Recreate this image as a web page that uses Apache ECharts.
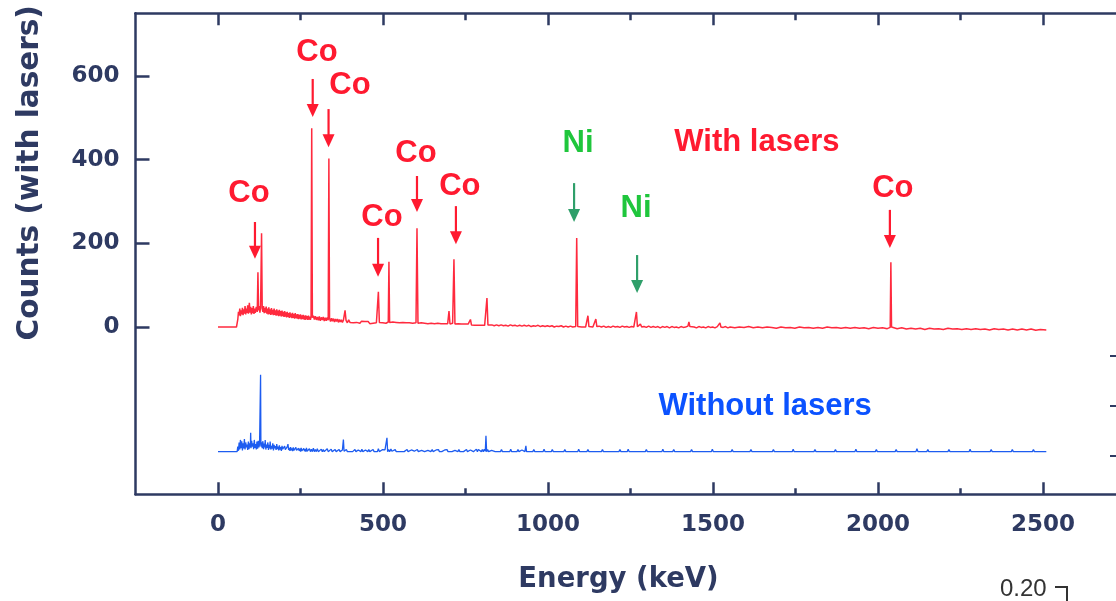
<!DOCTYPE html>
<html>
<head>
<meta charset="utf-8">
<title>Energy spectrum</title>
<script src="https://cdn.jsdelivr.net/npm/echarts@6/dist/echarts.min.js"></script>
<style>
  html, body { margin: 0; padding: 0; background: #ffffff; }
  #chart { width: 1116px; height: 601px; }
</style>
</head>
<body>
<div id="chart"></div>
<script>
// Gamma spectrum recorded with the lasers on: [energy keV, counts]
const redSpectrum = [
  [0,0],[56,0],[60,18],[62,36],[64,28],[66,44],[68,26],[70,40],[72,30],[74,46],[76,28],[78,42],[80,32],[82,50],[84,30],[86,44],
  [88,34],[90,52],[92,32],[94,46],[95,58],[97,34],[99,48],[101,30],[103,45],[105,33],[107,50],[109,31],[111,44],[113,34],
  [116,48],[119,36],[121,131],[123,40],[125,50],[127,34],[129,46],[132,224],[134,44],[136,36],[138,50],[140,33],[142,46],
  [144,34],[146,49],[148,32],[150,44],[152,30],[154,47],[156,31],[158,42],[160,29],[162,45],[164,30],[166,41],[168,28],
  [170,44],[172,29],[174,40],[176,27],[178,42],[180,28],[182,39],[184,26],[186,41],[188,27],[190,38],[192,25],[194,39],
  [196,26],[198,36],[200,24],[202,38],[204,25],[206,35],[208,23],[210,36],[212,24],[214,33],[216,22],[218,35],[220,23],
  [222,32],[224,21],[226,34],[228,22],[230,31],[232,20],[234,33],[236,21],[238,30],[240,20],[242,31],[244,19],[246,29],
  [248,20],[250,30],[252,18],[254,28],[256,19],[258,29],[260,18],[262,27],[264,17],[266,28],[268,18],[270,26],[272,17],
  [274,27],[276,18],[278,25],[280,17],[282,24],[284,475],[286,22],[289,27],[292,18],[295,26],[298,17],[301,24],[304,16],
  [307,25],[310,15],[313,23],[316,17],[319,24],[322,14],[325,22],[328,15],[331,23],[334,16],[336,403],[338,21],[341,13],
  [344,21],[347,14],[350,20],[353,12],[356,19],[359,13],[362,19],[365,11],[368,18],[371,12],[374,17],[377,11],[380,16],
  [383,12],[385,40],[388,16],[392,10],[396,17],[400,11],[405,15],[410,10],[415,14],[420,11],[425,15],[430,9],[435,14],
  [440,10],[445,13],[450,9],[455,13],[460,8],[465,12],[470,9],[475,13],[480,10],[483,12],[486,84],[489,11],
  [494,13],[499,10],[504,12],[509,9],[514,11],[516,12],[518,156],[520,11],[525,9],[530,12],[535,8],[540,11],[545,9],[550,10],
  [555,8],[560,11],[565,8],[570,10],[575,7],[580,10],[585,8],[590,9],[595,7],[600,10],[603,236],[606,9],[611,7],[616,10],[621,7],
  [626,9],[631,6],[636,8],[641,6],[646,9],[651,6],[656,8],[661,6],[666,9],[671,5],[676,8],[681,6],[686,8],[691,5],[696,8],
  [700,38],[703,7],[707,6],[711,9],[715,162],[718,7],[723,5],[728,8],[733,5],[738,7],[743,5],[748,7],[753,4],[758,7],[762,5],
  [765,18],[768,5],[773,6],[778,4],[783,7],[788,4],[793,6],[798,4],[803,6],[808,4],[812,5],[815,69],[818,5],[823,3],[830,5],
  [837,3],[844,5],[851,3],[858,5],[865,3],[872,4],[879,2],[886,5],[893,3],[900,4],[907,2],[914,4],[921,2],[928,4],[935,2],
  [942,4],[949,1],[956,3],[963,2],[970,4],[977,1],[984,3],[991,1],[998,3],[1005,1],[1012,3],[1019,0],[1026,2],[1033,1],[1040,3],
  [1047,0],[1054,2],[1061,0],[1068,2],[1075,0],[1081,1],[1084,1],[1087,213],[1090,1],[1096,3],[1102,0],[1108,2],[1114,0],
  [1118,2],[1121,27],[1124,1],[1130,2],[1136,0],[1141,2],[1145,19],[1148,1],[1155,2],[1162,0],[1169,2],[1176,-1],[1183,1],
  [1190,-1],[1197,2],[1204,0],[1211,1],[1218,-1],[1225,2],[1232,0],[1239,1],[1246,-1],[1253,1],[1260,0],[1265,2],[1268,36],
  [1271,1],[1276,0],[1280,7],[1284,0],[1291,1],[1298,-1],[1305,2],[1312,-1],[1319,1],[1326,-1],[1333,1],[1340,-2],[1347,1],
  [1354,-1],[1361,1],[1368,-2],[1375,1],[1382,-1],[1389,0],[1396,-2],[1403,1],[1410,-1],[1417,0],[1424,2],[1427,12],[1430,1],
  [1436,-1],[1443,0],[1450,-2],[1457,1],[1464,-1],[1471,0],[1478,-2],[1485,1],[1492,-1],[1499,0],[1506,-2],[1513,1],[1518,0],
  [1521,10],[1524,0],[1531,-1],[1538,1],[1545,-2],[1552,0],[1566,-2],[1580,0],[1594,-1],[1608,1],[1622,-2],[1636,0],[1650,-2],
  [1664,0],[1678,-1],[1692,-3],[1706,0],[1720,-2],[1734,-1],[1748,-3],[1762,0],[1776,-2],[1790,-1],[1804,-3],[1818,-1],[1832,-3],
  [1846,0],[1860,-2],[1874,-1],[1888,-3],[1902,-1],[1916,-3],[1930,-1],[1944,-3],[1958,-2],[1972,-4],[1986,-1],[2000,-3],
  [2014,-2],[2028,-4],[2034,-2],[2037,-1],[2039,155],[2041,0],[2046,-3],[2058,-4],[2072,-2],[2086,-5],[2100,-3],[2114,-5],
  [2128,-3],[2142,-6],[2156,-3],[2170,-5],[2184,-4],[2198,-6],[2212,-3],[2226,-5],[2240,-4],[2254,-6],[2268,-4],[2282,-6],
  [2296,-4],[2310,-6],[2324,-5],[2338,-7],[2352,-4],[2366,-6],[2380,-5],[2394,-7],[2408,-5],[2422,-7],[2436,-5],[2450,-7],
  [2464,-5],[2478,-8],[2492,-6],[2510,-7]
];

// Spectrum without the lasers: [energy keV, counts above its own baseline]
const blueSpectrum = [
  [0,0],[58,0],[60,12],[62,2],[64,22],[66,5],[68,28],[70,8],[72,25],[74,3],[76,20],[78,8],[80,30],[82,5],[84,22],[86,10],
  [88,17],[90,4],[92,24],[94,6],[96,20],[98,10],[99,45],[100,8],[102,26],[104,12],[106,20],[108,6],[110,28],[112,9],[114,18],
  [116,5],[118,24],[120,7],[122,26],[124,10],[126,18],[128,14],[129,184],[130,12],[132,22],[134,8],[136,25],[138,6],[140,19],
  [142,10],[143,28],[145,5],[147,17],[149,9],[151,22],[153,4],[155,16],[157,8],[158,24],[160,5],[162,14],[164,7],[166,20],
  [168,3],[170,16],[172,8],[174,13],[176,4],[178,18],[180,6],[182,12],[184,3],[186,15],[188,5],[190,11],[192,2],[194,14],
  [196,6],[198,10],[200,2],[202,13],[204,5],[206,9],[208,2],[210,12],[212,18],[214,4],[216,9],[218,2],[220,11],[222,3],
  [224,8],[226,1],[228,10],[230,3],[232,7],[234,1],[236,10],[238,3],[240,6],[242,0],[244,8],[246,2],[248,7],[250,0],[252,9],
  [254,2],[256,5],[258,0],[260,8],[262,1],[264,6],[266,0],[268,9],[270,1],[272,5],[274,0],[277,7],[280,0],[283,6],[286,0],
  [289,8],[292,0],[295,5],[298,0],[301,7],[304,0],[307,4],[310,0],[313,6],[316,0],[319,5],[322,0],[325,4],[328,0],[331,7],
  [334,0],[337,4],[340,0],[343,6],[346,0],[349,4],[352,0],[355,5],[358,0],[361,3],[364,0],[367,5],[370,0],[374,0],[377,4],
  [380,29],[382,1],[386,0],[389,5],[392,0],[396,3],[400,0],[404,4],[408,0],[412,0],[415,5],[418,0],[422,0],[425,4],[428,0],
  [433,0],[436,6],[439,0],[444,0],[447,4],[450,0],[454,0],[457,5],[460,0],[463,3],[466,0],[470,5],[473,0],[476,4],[479,0],
  [483,0],[486,7],[489,0],[492,4],[495,0],[499,5],[502,1],[506,4],[509,0],[512,33],[514,0],[517,5],[520,0],[524,6],[527,1],
  [530,4],[533,0],[537,5],[540,0],[543,3],[546,0],[552,0],[555,4],[558,0],[564,0],[567,4],[570,0],[573,5],[576,0],[579,3],
  [582,0],[586,4],[589,0],[592,5],[595,1],[598,4],[601,0],[604,5],[607,0],[610,4],[613,0],[617,3],[620,0],[623,5],[626,0],
  [629,4],[632,0],[636,3],[639,0],[642,4],[645,0],[649,5],[652,0],[655,3],[658,0],[661,4],[664,0],[668,5],[671,0],[675,4],
  [678,0],[684,0],[687,4],[690,0],[694,5],[697,0],[700,4],[703,0],[709,0],[712,4],[715,0],[718,3],[721,0],[727,0],[730,5],
  [733,0],[736,4],[739,0],[744,0],[747,4],[750,0],[753,5],[756,0],[762,0],[765,4],[768,0],[771,5],[774,0],[777,4],[780,0],
  [783,6],[786,0],[789,5],[792,1],[795,4],[798,0],[801,5],[804,0],[807,6],[810,1],[812,38],[814,0],[817,5],[820,0],[826,0],
  [829,3],[832,0],[840,0],[843,4],[846,0],[856,0],[859,5],[862,0],[870,0],[873,4],[876,0],[884,0],[887,6],[890,0],[893,4],
  [896,0],[906,0],[909,5],[912,0],[918,0],[921,4],[924,0],[930,0],[933,14],[935,0],[941,4],[944,0],[954,0],[957,5],[960,0],
  [968,0],[971,4],[974,0],[985,0],[988,6],[991,0],[994,4],[997,0],[1010,0],[1013,5],[1016,0],[1030,0],[1033,4],[1036,0],
  [1048,0],[1051,5],[1054,0],[1070,0],[1073,4],[1076,0],[1090,0],[1093,6],[1096,0],[1099,4],[1102,0],[1118,0],[1121,5],
  [1124,0],[1140,0],[1143,4],[1146,0],[1162,0],[1165,5],[1168,0],[1171,3],[1174,0],[1190,0],[1193,4],[1196,0],[1215,0],
  [1218,5],[1221,0],[1240,0],[1243,6],[1246,0],[1249,4],[1252,0],[1270,0],[1273,4],[1276,0],[1295,0],[1298,5],[1301,0],
  [1320,0],[1323,4],[1326,0],[1345,0],[1348,6],[1351,0],[1354,4],[1357,0],[1378,0],[1381,5],[1384,0],[1405,0],[1408,4],
  [1411,0],[1432,0],[1435,5],[1438,0],[1441,3],[1444,0],[1466,0],[1469,4],[1472,0],[1495,0],[1498,6],[1501,0],[1525,0],
  [1528,4],[1531,0],[1555,0],[1558,5],[1561,0],[1585,0],[1588,4],[1591,0],[1612,0],[1615,5],[1618,0],[1621,4],[1624,0],
  [1648,0],[1651,4],[1654,0],[1680,0],[1683,5],[1686,0],[1710,0],[1713,4],[1716,0],[1740,0],[1743,6],[1746,0],[1749,4],
  [1752,0],[1775,0],[1778,4],[1781,0],[1806,0],[1809,5],[1812,0],[1838,0],[1841,4],[1844,0],[1868,0],[1871,5],[1874,0],
  [1900,0],[1903,4],[1906,0],[1930,0],[1933,6],[1936,0],[1960,0],[1963,4],[1966,0],[1992,0],[1995,5],[1998,0],[2022,0],
  [2025,4],[2028,0],[2052,0],[2055,5],[2058,0],[2084,0],[2087,4],[2090,0],[2115,0],[2118,7],[2121,0],[2124,4],[2127,0],
  [2148,0],[2151,5],[2154,0],[2180,0],[2183,4],[2186,0],[2212,0],[2215,5],[2218,0],[2244,0],[2247,4],[2250,0],[2276,0],
  [2279,6],[2282,0],[2308,0],[2311,4],[2314,0],[2340,0],[2343,5],[2346,0],[2372,0],[2375,4],[2378,0],[2404,0],[2407,5],
  [2410,0],[2436,0],[2439,4],[2442,0],[2468,0],[2471,5],[2474,0],[2495,0],[2498,4],[2501,0],[2510,0]
];

// The second spectrum is drawn shifted down by this many counts
const blueBaseline = -298;

// Axis ticks
const energyTicks = [0, 500, 1000, 1500, 2000, 2500];
const energyMinorTicks = [250, 750, 1250, 1750, 2250];
const countTicks = [0, 200, 400, 600];

// Line identifications: label position, arrow shaft top and arrow tip (keV, counts)
const markText     = ['Co', 'Co', 'Co', 'Co', 'Co', 'Co', 'Ni', 'Ni', 'Co'];
const labelEnergy  = [94, 300, 400, 497, 600, 733, 1091, 1267, 2045];
const labelCount   = [320, 657, 578, 261, 416, 337, 440, 284, 332];
const arrowEnergy  = [112, 287, 335, 485, 603, 721, 1079, 1270, 2036];
const arrowTop     = [251, 593, 521, 213, 361, 289, 344, 172, 280];
const arrowTip     = [163, 502, 430, 120, 275, 198, 251, 81, 189];

// Curve captions
const captionText   = ['With lasers', 'Without lasers'];
const captionEnergy = [1633, 1658];
const captionCount  = [442, -189];

const AXIS = '#2e3a62';
const RED = '#ff1a30';
const RED_LINE = '#ff2a3e';
const BLUE = '#0b52ff';
const BLUE_LINE = '#1d5cf0';
const GREEN_TEXT = '#1fc63c';
const GREEN_ARROW = '#2f9f6a';
const TICK_FONT = '"DejaVu Sans", sans-serif';
const LABEL_FONT = '"Liberation Sans", Arial, sans-serif';

const chart = echarts.init(document.getElementById('chart'), null, { renderer: 'canvas' });

function renderMark(params, api) {
  const i = params.dataIndex;
  const isNi = markText[i] === 'Ni';
  const arrowColor = isNi ? GREEN_ARROW : RED;
  const textColor = isNi ? GREEN_TEXT : RED;
  const top = api.coord([arrowEnergy[i], arrowTop[i]]);
  const tip = api.coord([arrowEnergy[i], arrowTip[i]]);
  const lab = api.coord([labelEnergy[i], labelCount[i]]);
  const headH = 13, headW = 6;
  return {
    type: 'group',
    children: [
      { type: 'line',
        shape: { x1: top[0], y1: top[1], x2: tip[0], y2: tip[1] - headH + 1 },
        style: { stroke: arrowColor, lineWidth: 2.2 } },
      { type: 'polygon',
        shape: { points: [[tip[0] - headW, tip[1] - headH], [tip[0] + headW, tip[1] - headH], [tip[0], tip[1]]] },
        style: { fill: arrowColor } },
      { type: 'text', x: lab[0], y: lab[1],
        style: { text: markText[i], fill: textColor, font: 'bold 31px ' + LABEL_FONT,
                 align: 'center', verticalAlign: 'middle' } }
    ]
  };
}

function renderCaption(params, api) {
  const i = params.dataIndex;
  const p = api.coord([captionEnergy[i], captionCount[i]]);
  return {
    type: 'text', x: p[0], y: p[1],
    style: { text: captionText[i], fill: i === 0 ? RED : BLUE, font: 'bold 31px ' + LABEL_FONT,
             align: 'center', verticalAlign: 'middle' }
  };
}

const plainNumber = v => String(v);

const xBase = {
  type: 'value', min: -250, max: 2750,
  splitLine: { show: false },
  axisLine: { show: true, onZero: false, lineStyle: { color: AXIS, width: 2.5 } }
};

const option = {
  animation: false,
  backgroundColor: '#ffffff',
  grid: { left: 135.5, right: -9.5, top: 13.3, bottom: 106.7, containLabel: false, outerBoundsMode: 'none' },
  xAxis: [
    Object.assign({}, xBase, {
      position: 'bottom',
      name: 'Energy (keV)', nameLocation: 'middle', nameGap: 72,
      nameTextStyle: { color: AXIS, fontFamily: TICK_FONT, fontWeight: 'bold', fontSize: 27.5, padding: [0, 24, 0, 0] },
      axisTick: { show: true, inside: true, length: 12, customValues: energyTicks, lineStyle: { color: AXIS, width: 2.5 } },
      axisLabel: { show: true, customValues: energyTicks, formatter: plainNumber, margin: 19, color: AXIS,
                   fontFamily: TICK_FONT, fontWeight: 'bold', fontSize: 23 }
    }),
    Object.assign({}, xBase, {
      position: 'bottom',
      axisLine: { show: false, onZero: false },
      axisTick: { show: true, inside: true, length: 6, customValues: energyMinorTicks, lineStyle: { color: AXIS, width: 2.5 } },
      axisLabel: { show: false }
    }),
    Object.assign({}, xBase, {
      position: 'top',
      axisTick: { show: true, inside: true, length: 12, customValues: energyTicks, lineStyle: { color: AXIS, width: 2.5 } },
      axisLabel: { show: false }
    }),
    Object.assign({}, xBase, {
      position: 'top',
      axisLine: { show: false, onZero: false },
      axisTick: { show: true, inside: true, length: 7, customValues: energyMinorTicks, lineStyle: { color: AXIS, width: 2.5 } },
      axisLabel: { show: false }
    })
  ],
  yAxis: [{
    type: 'value', min: -400, max: 750,
    position: 'left',
    name: 'Counts (with lasers)', nameLocation: 'middle', nameGap: 90, nameRotate: 90,
    nameTextStyle: { color: AXIS, fontFamily: TICK_FONT, fontWeight: 'bold', fontSize: 29.5, padding: [0, 0, 0, 162] },
    splitLine: { show: false },
    axisLine: { show: true, onZero: false, lineStyle: { color: AXIS, width: 2.5 } },
    axisTick: { show: true, inside: true, length: 14, customValues: countTicks, lineStyle: { color: AXIS, width: 2.5 } },
    axisLabel: { show: true, customValues: countTicks, formatter: plainNumber, margin: 16, color: AXIS,
                 fontFamily: TICK_FONT, fontWeight: 'bold', fontSize: 23 }
  }],
  series: [
    {
      name: 'With lasers', type: 'line', xAxisIndex: 0, yAxisIndex: 0,
      data: redSpectrum, showSymbol: false, symbol: 'none',
      lineStyle: { color: RED_LINE, width: 1.5 }, z: 3
    },
    {
      name: 'Without lasers', type: 'line', xAxisIndex: 0, yAxisIndex: 0,
      data: blueSpectrum.map(p => [p[0], p[1] + blueBaseline]), showSymbol: false, symbol: 'none',
      lineStyle: { color: BLUE_LINE, width: 1.3 }, z: 3
    },
    {
      type: 'custom', xAxisIndex: 0, yAxisIndex: 0, renderItem: renderMark, clip: false,
      data: arrowEnergy.map((e, i) => [e, arrowTip[i]]), z: 4
    },
    {
      type: 'custom', xAxisIndex: 0, yAxisIndex: 0, renderItem: renderCaption, clip: false,
      data: captionEnergy.map((e, i) => [e, captionCount[i]]), z: 4
    }
  ],
  graphic: [
    // edge of the neighbouring panel
    { type: 'line', shape: { x1: 1110, y1: 356, x2: 1116, y2: 356 }, style: { stroke: AXIS, lineWidth: 2 } },
    { type: 'line', shape: { x1: 1110, y1: 406, x2: 1116, y2: 406 }, style: { stroke: AXIS, lineWidth: 2 } },
    { type: 'line', shape: { x1: 1110, y1: 456, x2: 1116, y2: 456 }, style: { stroke: AXIS, lineWidth: 2 } },
    { type: 'text', left: 1000, top: 577,
      style: { text: '0.20', fill: '#333333', font: '24px "Liberation Sans", Arial, sans-serif' } },
    { type: 'polyline', shape: { points: [[1055, 587], [1067, 587], [1067, 601]] },
      style: { stroke: '#333333', lineWidth: 2, fill: null } }
  ]
};

chart.setOption(option);
</script>
</body>
</html>
